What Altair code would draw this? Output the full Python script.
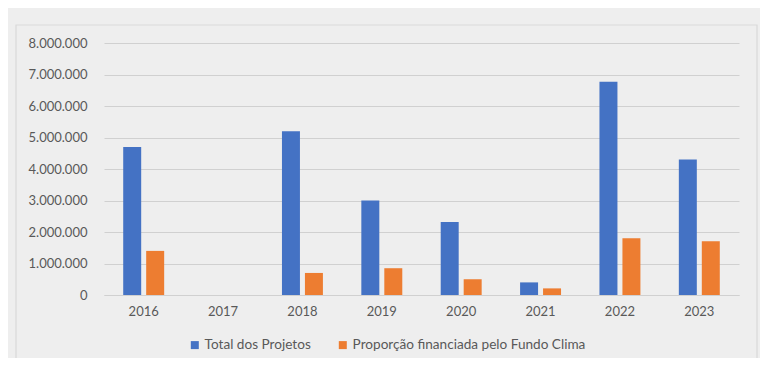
import altair as alt
import pandas as pd

years = ["2016", "2017", "2018", "2019", "2020", "2021", "2022", "2023"]
total_projetos = [4700000, None, 5200000, 3000000, 2320000, 400000, 6770000, 4300000]
fundo_clima = [1400000, None, 700000, 850000, 500000, 210000, 1800000, 1710000]
series_names = ["Total dos Projetos", "Proporção financiada pelo Fundo Clima"]
series_colors = ["#4472C4", "#ED7D31"]
y_ticks = [0, 1000000, 2000000, 3000000, 4000000, 5000000, 6000000, 7000000, 8000000]

rows = []
for i, y in enumerate(years):
    rows.append({"ano": y, "serie": series_names[0], "valor": total_projetos[i]})
    rows.append({"ano": y, "serie": series_names[1], "valor": fundo_clima[i]})
df = pd.DataFrame(rows)

FONT = "Lato"
LABEL_COLOR = "#595959"

bars = alt.Chart(df).mark_bar().encode(
    x=alt.X("ano:N", sort=years,
            scale=alt.Scale(paddingInner=0.484, paddingOuter=0.242),
            axis=alt.Axis(title=None, labelAngle=0, ticks=False, domain=True,
                          domainColor="#d0d0d0", labelPadding=10, labelFontSize=13,
                          labelColor=LABEL_COLOR, labelFont=FONT)),
    xOffset=alt.XOffset("serie:N", sort=series_names,
                        scale=alt.Scale(paddingInner=0.217, paddingOuter=0)),
    y=alt.Y("valor:Q",
            scale=alt.Scale(domain=[0, 8000000], nice=False),
            axis=alt.Axis(title=None, values=y_ticks, format=",d", ticks=False,
                          domain=False, gridColor="#d0d0d0", gridWidth=1.2,
                          labelPadding=17, labelFontSize=13, labelColor=LABEL_COLOR,
                          labelFont=FONT)),
    color=alt.Color("serie:N", sort=series_names,
                    scale=alt.Scale(domain=series_names, range=series_colors),
                    legend=alt.Legend(title=None, orient="none", direction="horizontal",
                                      legendX=84, legendY=295, symbolType="square",
                                      symbolSize=64, symbolStrokeWidth=0,
                                      labelFontSize=13.6, labelColor=LABEL_COLOR,
                                      labelFont=FONT, columnPadding=25,
                                      labelOffset=3, labelLimit=400)),
)

frame = alt.Chart(pd.DataFrame({"f": [0]})).mark_rect(
    fill=None, stroke="#d9d9d9", strokeWidth=1.2
).encode(x=alt.value(-88), x2=alt.value(653), y=alt.value(-18), y2=alt.value(340))

chart = alt.layer(frame, bars).properties(
    width=635, height=252,
    autosize=alt.AutoSizeParams(type="none"),
    padding={"left": 96, "top": 35, "right": 21, "bottom": 63},
    background="#eeeeee",
).configure(
    locale={"number": {"decimal": ",", "thousands": ".", "grouping": [3],
                       "currency": ["R$", ""]}},
    view={"stroke": "transparent"},
)

chart.save("out.html", embed_options={"renderer": "svg", "actions": False})
